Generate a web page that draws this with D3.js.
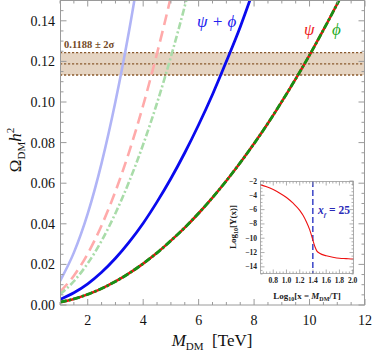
<!DOCTYPE html>
<html><head><meta charset="utf-8">
<script src="https://cdn.jsdelivr.net/npm/d3@7"></script>
<style>html,body{margin:0;padding:0;background:#fff;}svg{display:block;}</style>
</head><body>
<svg id="c" width="374" height="351"></svg>
<script>
// ---- data ----
const massTeV = [1,1.5,2,2.5,3,3.5,4,4.5,5,5.5,6,6.5,7,7.5,8,8.5,9,9.5,10,10.5,11,11.5];
// bright curves
const omegaPsi      = [0.00135,0.0030,0.00525,0.0081,0.0116,0.0157,0.0204,0.0257,0.0317,0.0381,0.0452,0.0529,0.0612,0.0701,0.0795,0.0895,0.1002,0.1114,0.1231,0.1355,0.1484,0.162];
const omegaPhi      = [0.00135,0.0030,0.00525,0.0081,0.0116,0.0157,0.0204,0.0257,0.0317,0.0381,0.0452,0.0529,0.0612,0.0701,0.0795,0.0895,0.1002,0.1114,0.1231,0.1355,0.1484,0.162];
const omegaPsiPhi   = [0.0027,0.0060,0.0104,0.0161,0.0230,0.0311,0.0403,0.0508,0.0623,0.0750,0.0888,0.1037,0.120,0.137,0.156];
// faded curves
const omegaPsiPhiAlt= [0.0118,0.0258,0.0450,0.0699,0.1002,0.1357,0.1765];
const omegaPsiAlt   = [0.0065,0.0144,0.0253,0.0392,0.0560,0.0757,0.0984,0.124,0.152,0.184];
const omegaPhiAlt   = [0.0053,0.0117,0.0205,0.0316,0.0452,0.0610,0.0791,0.0995,0.1223,0.1472,0.1745];
// Planck band
const omegaObs = 0.1188, omegaErr2s = 0.0055;
const xTicks = [2,4,6,8,10,12];
const yTicks = [0.00,0.02,0.04,0.06,0.08,0.10,0.12,0.14];
// inset: log10 x vs log10 Y
const insetLogX = [0.6,0.7,0.8,0.9,1.0,1.1,1.2,1.25,1.3,1.35,1.4,1.43,1.46,1.5,1.6,1.7,1.8,1.9,2.0,2.02];
const insetLogY = [-2.5,-2.8,-3.2,-3.7,-4.3,-5.1,-6.1,-6.8,-7.7,-8.8,-10.3,-11.2,-11.8,-12.1,-12.45,-12.65,-12.8,-12.85,-12.9,-12.9];
const insetXTicks = [0.8,1.0,1.2,1.4,1.6,1.8,2.0];
const insetYTicks = [-2,-4,-6,-8,-10,-12,-14];
const xFreezeLog = Math.log10(25);

// ---- chart ----
const svg = d3.select('#c');
const serif = '"Liberation Serif","DejaVu Serif",serif';
const x = d3.scaleLinear().domain([1,12]).range([60,365]);
const y = d3.scaleLinear().domain([0,0.15]).range([305,0.5]);
const frameCol = '#9a9a9a';

svg.append('clipPath').attr('id','clip').append('rect')
  .attr('x',x(1)).attr('y',y(0.15)).attr('width',x(12)-x(1)).attr('height',y(0)-y(0.15));

const plot = svg.append('g').attr('clip-path','url(#clip)');

// band
plot.append('rect').attr('x',x(1)).attr('width',x(12)-x(1))
  .attr('y',y(omegaObs+omegaErr2s)).attr('height',y(omegaObs-omegaErr2s)-y(omegaObs+omegaErr2s))
  .attr('fill','#e2cfbb').attr('opacity',0.9);
[omegaObs-omegaErr2s, omegaObs, omegaObs+omegaErr2s].forEach(v=>{
  plot.append('line').attr('x1',x(1)).attr('x2',x(12)).attr('y1',y(v)).attr('y2',y(v))
    .attr('stroke','#8a5a2e').attr('stroke-width',1.4).attr('stroke-dasharray','2.2,1.8');
});

const line = d3.line().x(d=>x(d[0])).y(d=>y(d[1])).curve(d3.curveMonotoneX);
const ser = vals => vals.map((v,i)=>[massTeV[i],v]);

function draw(vals, color, width, dash){
  plot.append('path').datum(ser(vals)).attr('d',line).attr('fill','none')
    .attr('stroke',color).attr('stroke-width',width)
    .attr('stroke-dasharray',dash||null).attr('stroke-linecap','butt');
}
draw(omegaPsiPhiAlt,'#b0b4f6',2.6);
draw(omegaPsiAlt,'#ffaaaa',2.6,'11,6');
draw(omegaPhiAlt,'#a9dca9',2.6,'7,2.5,2,2.5');
draw(omegaPsiPhi,'#0a0aee',2.8);
draw(omegaPsi,'#ee1111',2.6);
draw(omegaPhi,'#159015',2.8,'7,2,2.5,2');

// frame & ticks
function ticksOn(g, scale, vals, orient, len, pos){
  vals.forEach(v=>{
    const p = scale(v);
    if(orient==='b') g.append('line').attr('x1',p).attr('x2',p).attr('y1',pos).attr('y2',pos-len);
    if(orient==='t') g.append('line').attr('x1',p).attr('x2',p).attr('y1',pos).attr('y2',pos+len);
    if(orient==='l') g.append('line').attr('y1',p).attr('y2',p).attr('x1',pos).attr('x2',pos+len);
    if(orient==='r') g.append('line').attr('y1',p).attr('y2',p).attr('x1',pos).attr('x2',pos-len);
  });
}
const fr = svg.append('g').attr('stroke',frameCol).attr('stroke-width',1).attr('fill','none');
fr.append('rect').attr('x',x(1)+0.5).attr('y',0.5).attr('width',x(12)-x(1)-1).attr('height',y(0)-0.5);
const xMinor = d3.range(1,12.01,0.5).filter(v=>!xTicks.includes(v));
const yMinor = d3.range(0,0.1501,0.005).map(v=>+v.toFixed(3)).filter(v=>!yTicks.some(t=>Math.abs(t-v)<1e-6));
ticksOn(fr,x,xTicks,'b',6,305); ticksOn(fr,x,xMinor,'b',3,305);
ticksOn(fr,x,xTicks,'t',6,0.5); ticksOn(fr,x,xMinor,'t',3,0.5);
ticksOn(fr,y,yTicks,'l',6,60.5); ticksOn(fr,y,yMinor,'l',3,60.5);
ticksOn(fr,y,yTicks,'r',6,364.5); ticksOn(fr,y,yMinor,'r',3,364.5);

// tick labels
svg.append('g').selectAll('text').data(xTicks).join('text')
  .attr('x',d=>x(d)).attr('y',325).attr('text-anchor','middle')
  .attr('font-family',serif).attr('font-size',14).attr('fill','#111').text(d=>d);
svg.append('g').selectAll('text').data(yTicks).join('text')
  .attr('x',55).attr('y',d=>y(d)+5).attr('text-anchor','end')
  .attr('font-family',serif).attr('font-size',14).attr('fill','#111').text(d=>d.toFixed(2));

// axis titles
const xl = svg.append('text').attr('x',212).attr('y',346).attr('text-anchor','middle')
  .attr('font-family',serif).attr('font-size',17).attr('fill','#111');
xl.append('tspan').attr('font-style','italic').text('M');
xl.append('tspan').attr('font-size',11).attr('dy',4).text('DM');
xl.append('tspan').attr('dy',-4).text('\u00a0\u00a0[TeV]');

const yl = svg.append('text').attr('transform','translate(21,150) rotate(-90)').attr('text-anchor','middle')
  .attr('font-family',serif).attr('font-size',17).attr('fill','#111');
yl.append('tspan').text('Ω');
yl.append('tspan').attr('font-size',11).attr('dy',4).text('DM');
yl.append('tspan').attr('dy',-4).attr('font-style','italic').text('h');
yl.append('tspan').attr('font-size',11).attr('dy',-7).text('2');

// annotations
svg.append('text').attr('x',64).attr('y',48).attr('font-family',serif).attr('font-weight','bold')
  .attr('font-size',10.5).attr('fill','#744a26').text('0.1188 ± 2σ');
svg.append('text').attr('x',197).attr('y',27).attr('font-family',serif).attr('font-style','italic')
  .attr('font-size',17).attr('fill','#2020ee').text('ψ + ϕ');
svg.append('text').attr('x',304).attr('y',35).attr('font-family',serif).attr('font-style','italic')
  .attr('font-size',17).attr('fill','#ee1a1a').text('ψ');
svg.append('text').attr('x',332).attr('y',35).attr('font-family',serif).attr('font-style','italic')
  .attr('font-size',17).attr('fill','#22aa22').text('ϕ');

// ---- inset ----
const ix = d3.scaleLinear().domain([0.6,2.02]).range([260,354]);
const iy = d3.scaleLinear().domain([-15,-2]).range([274,181]);
svg.append('rect').attr('x',260).attr('y',181).attr('width',94).attr('height',93).attr('fill','#fff');
svg.append('clipPath').attr('id','iclip').append('rect').attr('x',260).attr('y',181).attr('width',94).attr('height',93);
const ig = svg.append('g').attr('clip-path','url(#iclip)');
ig.append('line').attr('x1',ix(xFreezeLog)).attr('x2',ix(xFreezeLog)).attr('y1',181).attr('y2',274)
  .attr('stroke','#3b44c8').attr('stroke-width',1.5).attr('stroke-dasharray','6,3');
ig.append('path').datum(insetLogX.map((v,i)=>[v,insetLogY[i]]))
  .attr('d',d3.line().x(d=>ix(d[0])).y(d=>iy(d[1])).curve(d3.curveMonotoneX))
  .attr('fill','none').attr('stroke','#ee1111').attr('stroke-width',1.1);
const ifr = svg.append('g').attr('stroke',frameCol).attr('stroke-width',0.8).attr('fill','none');
ifr.append('rect').attr('x',260.5).attr('y',181.5).attr('width',93).attr('height',92);
const ixMinor = d3.range(0.65,2.02,0.05).map(v=>+v.toFixed(2)).filter(v=>!insetXTicks.some(t=>Math.abs(t-v)<1e-6));
const iyMinor = d3.range(-15,-2,0.5).filter(v=>!insetYTicks.includes(v));
ticksOn(ifr,ix,insetXTicks,'b',4,273.5); ticksOn(ifr,ix,ixMinor,'b',2,273.5);
ticksOn(ifr,ix,insetXTicks,'t',4,181.5); ticksOn(ifr,ix,ixMinor,'t',2,181.5);
ticksOn(ifr,iy,insetYTicks,'l',4,260.5); ticksOn(ifr,iy,iyMinor,'l',2,260.5);
ticksOn(ifr,iy,insetYTicks,'r',4,353.5); ticksOn(ifr,iy,iyMinor,'r',2,353.5);
svg.append('g').selectAll('text').data(insetXTicks).join('text')
  .attr('x',d=>ix(d)).attr('y',283).attr('text-anchor','middle').attr('font-family',serif)
  .attr('font-weight','bold').attr('font-size',7.5).attr('fill','#222').text(d=>d.toFixed(1));
svg.append('g').selectAll('text').data(insetYTicks).join('text')
  .attr('x',257).attr('y',d=>iy(d)+2.5).attr('text-anchor','end').attr('font-family',serif)
  .attr('font-weight','bold').attr('font-size',7.5).attr('fill','#222').text(d=>'\u2212'+Math.abs(d));
const ixl = svg.append('text').attr('x',307).attr('y',299).attr('text-anchor','middle').attr('font-family',serif)
  .attr('font-weight','bold').attr('font-size',9).attr('fill','#222');
ixl.append('tspan').text('Log');
ixl.append('tspan').attr('font-size',6).attr('dy',2).text('10');
ixl.append('tspan').attr('dy',-2).text('[x = ');
ixl.append('tspan').attr('font-style','italic').text('M');
ixl.append('tspan').attr('font-size',6).attr('dy',2).text('DM');
ixl.append('tspan').attr('dy',-2).text('/T]');
const iyl = svg.append('text').attr('transform','translate(236,227) rotate(-90)').attr('text-anchor','middle')
  .attr('font-family',serif).attr('font-weight','bold').attr('font-size',9).attr('fill','#222');
iyl.append('tspan').text('Log');
iyl.append('tspan').attr('font-size',6).attr('dy',2).text('10');
iyl.append('tspan').attr('dy',-2).text('[Y(x)]');
const xf = svg.append('text').attr('x',318).attr('y',214).attr('font-family',serif)
  .attr('font-weight','bold').attr('font-size',11.5).attr('fill','#2a2ab8');
xf.append('tspan').attr('font-style','italic').text('x');
xf.append('tspan').attr('font-style','italic').attr('font-size',7).attr('dy',3).text('f');
xf.append('tspan').attr('dy',-3).text(' = 25');
</script>
</body></html>
